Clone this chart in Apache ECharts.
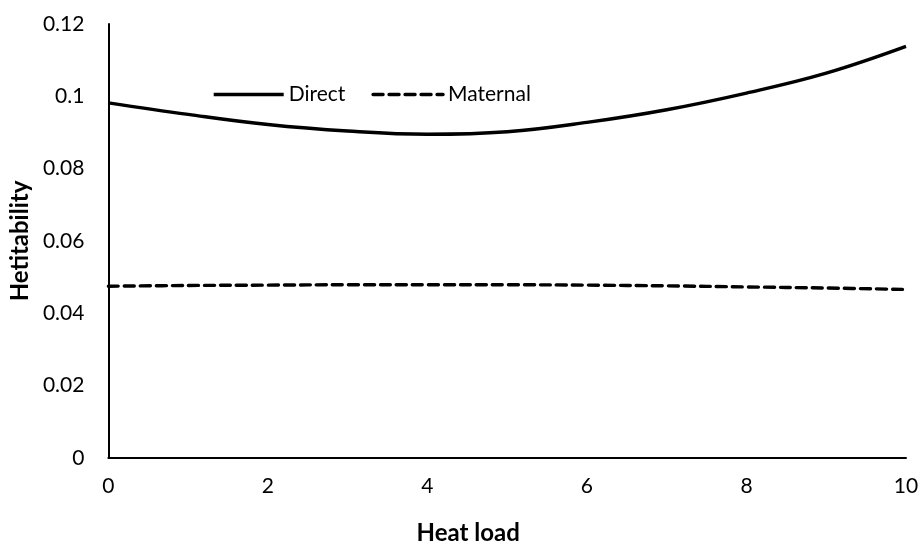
<!DOCTYPE html>
<html>
<head>
<meta charset="utf-8">
<script src="https://cdn.jsdelivr.net/npm/echarts@6/dist/echarts.min.js"></script>
<style>
  html, body { margin: 0; padding: 0; background: #fff; }
  #chart { width: 924px; height: 550px; }
</style>
</head>
<body>
<div id="chart"></div>
<script>
// Heat load levels (x) and heritability estimates for each effect
const heatLoad = [0, 1, 2, 3, 4, 5, 6, 7, 8, 9, 10];
const direct   = [0.0982, 0.0950, 0.0922, 0.0904, 0.0895, 0.0902, 0.0928, 0.0963, 0.1009, 0.1064, 0.1138];
const maternal = [0.0475, 0.0477, 0.0478, 0.0479, 0.0479, 0.0479, 0.0478, 0.0476, 0.0473, 0.0470, 0.0466];
const xTicks = { min: 0, max: 10, step: 2 };
const yTicks = { min: 0, max: 0.12, step: 0.02 };

const FONT = 'Lato';
const pair = (xs, ys) => xs.map((x, i) => [x, ys[i]]);

const chart = echarts.init(document.getElementById('chart'), null, { renderer: 'canvas' });
chart.setOption({
  animation: false,
  backgroundColor: '#ffffff',
  textStyle: { fontFamily: FONT, color: '#000' },
  grid: { left: 108, right: 18, top: 24, bottom: 90, containLabel: false },
  legend: {
    left: 207,
    top: 79,
    itemWidth: 70,
    itemHeight: 14,
    itemGap: 26,
    itemStyle: { opacity: 0 },
    lineStyle: { width: 3.4 },
    textStyle: { fontFamily: FONT, fontSize: 21, color: '#000' },
    data: ['Direct', 'Maternal']
  },
  xAxis: {
    type: 'value',
    min: xTicks.min,
    max: xTicks.max,
    interval: xTicks.step,
    name: 'Heat load',
    nameLocation: 'middle',
    nameGap: 63,
    // title sits a little left of the plot centre
    nameTextStyle: { fontFamily: FONT, fontSize: 24, fontWeight: 'bold', color: '#000', padding: [0, 78, 0, 0] },
    axisLine: { show: true, onZero: false, lineStyle: { color: '#000', width: 2 } },
    axisTick: { show: false },
    splitLine: { show: false },
    axisLabel: { fontFamily: FONT, fontSize: 21, color: '#000', margin: 18 }
  },
  yAxis: {
    type: 'value',
    min: yTicks.min,
    max: yTicks.max,
    interval: yTicks.step,
    name: 'Hetitability',
    nameLocation: 'middle',
    nameGap: 74,
    nameTextStyle: { fontFamily: FONT, fontSize: 24, fontWeight: 'bold', color: '#000' },
    axisLine: { show: true, lineStyle: { color: '#000', width: 2 } },
    axisTick: { show: false },
    splitLine: { show: false },
    axisLabel: { fontFamily: FONT, fontSize: 21, color: '#000', margin: 24 }
  },
  series: [
    {
      name: 'Direct',
      type: 'line',
      data: pair(heatLoad, direct),
      smooth: 0.4,
      symbol: 'none',
      lineStyle: { color: '#000', width: 3.4, type: 'solid' },
      itemStyle: { color: '#000' }
    },
    {
      name: 'Maternal',
      type: 'line',
      data: pair(heatLoad, maternal),
      smooth: 0.4,
      symbol: 'none',
      lineStyle: { color: '#000', width: 3.4, type: [10, 6], cap: 'round' },
      itemStyle: { color: '#000' }
    }
  ]
});
</script>
</body>
</html>
